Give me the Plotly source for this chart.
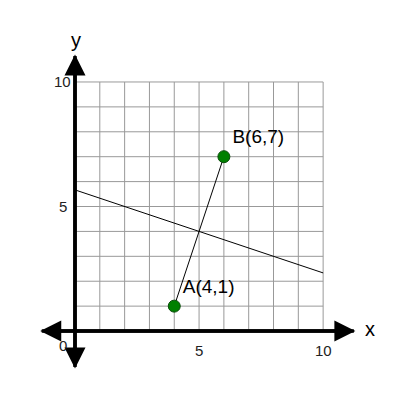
import plotly.graph_objects as go

# data
grid_vals = list(range(0, 11))
points_x = [4, 6]
points_y = [1, 7]
point_labels = ["A(4,1)", "B(6,7)"]
bisector_x = [0, 10]
bisector_y = [5 + 2 / 3, 2 + 1 / 3]
tick_vals = [5, 10]

fig = go.Figure()

# grid
for v in grid_vals:
    fig.add_trace(go.Scatter(x=[v, v], y=[0, 10], mode="lines",
                             line=dict(color="#999", width=1), hoverinfo="skip"))
    fig.add_trace(go.Scatter(x=[0, 10], y=[v, v], mode="lines",
                             line=dict(color="#999", width=1), hoverinfo="skip"))

# segment AB and bisector
fig.add_trace(go.Scatter(x=points_x, y=points_y, mode="lines",
                         line=dict(color="black", width=1)))
fig.add_trace(go.Scatter(x=bisector_x, y=bisector_y, mode="lines",
                         line=dict(color="black", width=1)))

# points
fig.add_trace(go.Scatter(x=points_x, y=points_y, mode="markers+text",
                         marker=dict(color="green", size=12, line=dict(color="#0a4d0a", width=1)),
                         text=point_labels, textposition="top right",
                         textfont=dict(size=19, color="black", family="Liberation Sans")))

# axes with arrows on both ends
ax_kw = dict(xref="x", yref="y", axref="x", ayref="y", text="", showarrow=True,
             arrowhead=2, arrowsize=1.2, arrowwidth=3.5, arrowcolor="black")
fig.add_annotation(x=11.3, y=0, ax=-1.4, ay=0, **ax_kw)
fig.add_annotation(x=-1.4, y=0, ax=11.3, ay=0, **ax_kw)
fig.add_annotation(x=0, y=11.1, ax=0, ay=-1.5, **ax_kw)
fig.add_annotation(x=0, y=-1.5, ax=0, ay=11.1, **ax_kw)

lab = dict(showarrow=False, font=dict(size=15, color="#222", family="Liberation Sans"))
for t in tick_vals:
    fig.add_annotation(x=t, y=-0.8, text=str(t), **lab)
    fig.add_annotation(x=-0.5, y=t, text=str(t), **lab)
fig.add_annotation(x=-0.5, y=-0.6, text="0", **lab)
fig.add_annotation(x=11.9, y=0.1, text="x", showarrow=False,
                   font=dict(size=20, color="black", family="Liberation Sans"))
fig.add_annotation(x=0.05, y=11.7, text="y", showarrow=False,
                   font=dict(size=20, color="black", family="Liberation Sans"))

fig.update_layout(width=400, height=400, margin=dict(l=0, r=0, t=0, b=0),
                  showlegend=False, plot_bgcolor="white", paper_bgcolor="white",
                  xaxis=dict(range=[-2.70, 13.42], visible=False),
                  yaxis=dict(range=[-3.09, 12.97], visible=False))

fig.write_html("out.html")
